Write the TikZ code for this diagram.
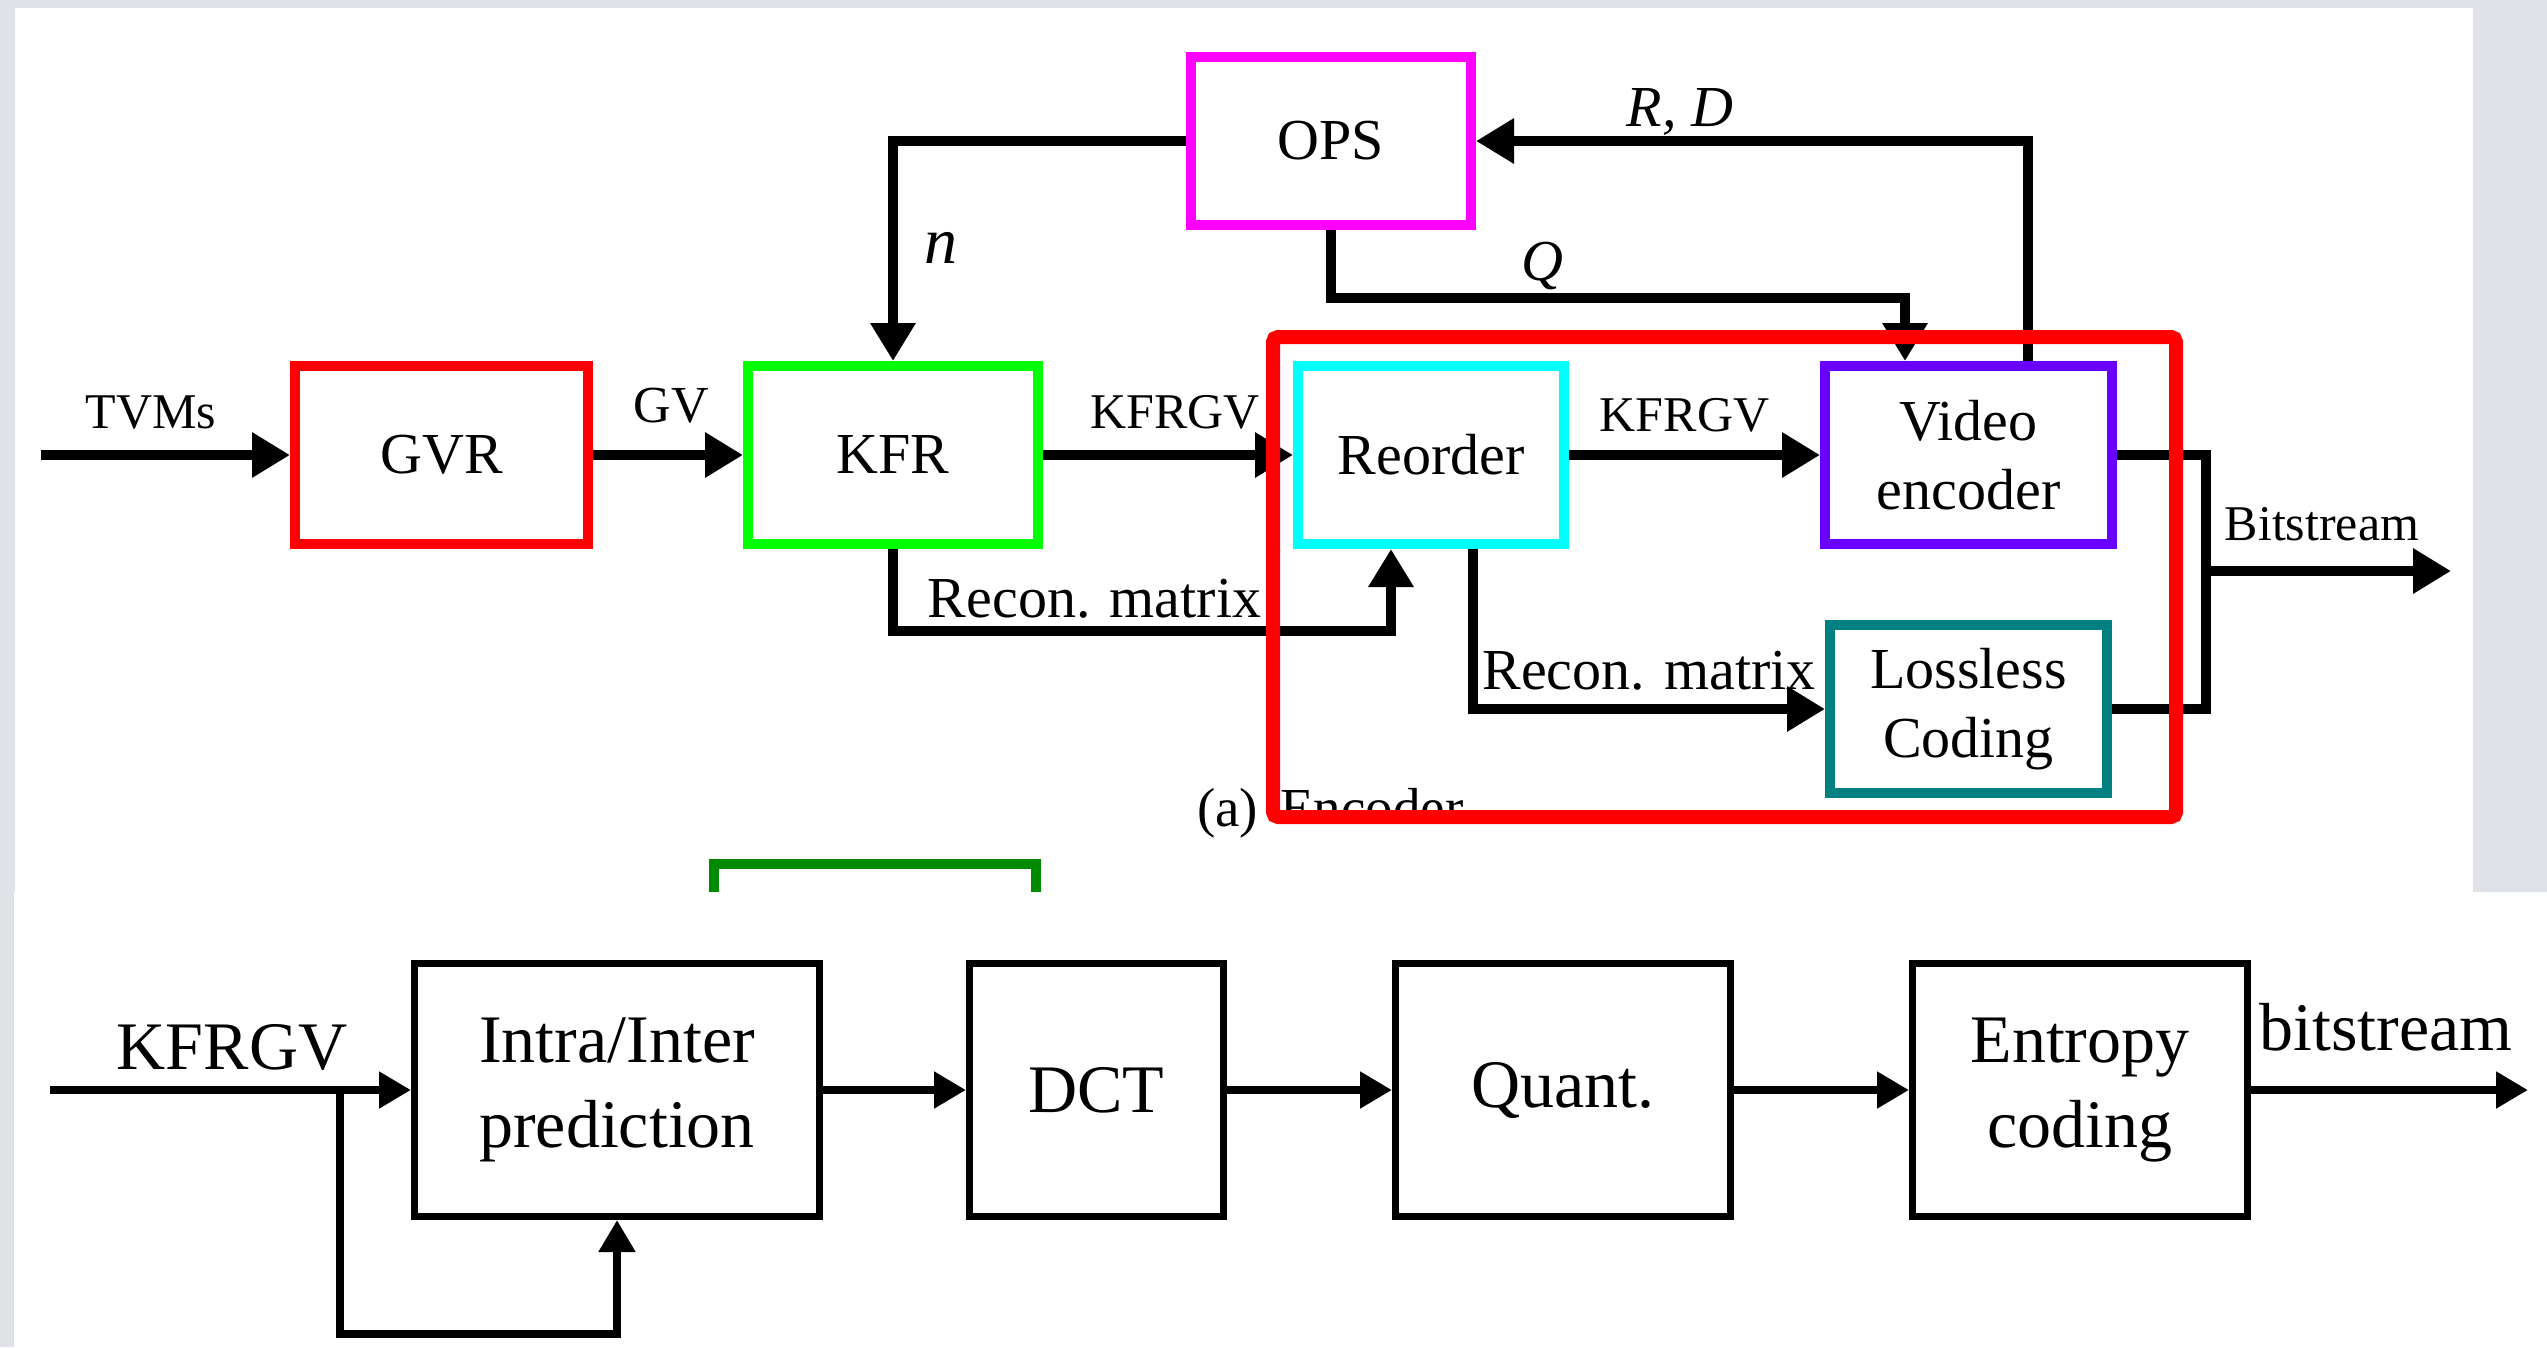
\documentclass[tikz,border=0pt]{standalone}
\usepackage{fontspec}
\setmainfont{Liberation Serif}
\usetikzlibrary{arrows.meta,calc}
\definecolor{bggrey}{HTML}{DFE2E7}
\definecolor{vmag}{HTML}{FF00FF}
\definecolor{vred}{HTML}{FF0000}
\definecolor{vgreen}{HTML}{00FF00}
\definecolor{vcyan}{HTML}{00FFFF}
\definecolor{vpurple}{HTML}{6A00FF}
\definecolor{vteal}{HTML}{008080}
\definecolor{vdkgreen}{HTML}{008A00}
\newcommand{\myfs}[2]{\fontsize{#1pt}{#2pt}\selectfont}
\begin{document}
\begin{tikzpicture}[x=1pt,y=-1pt,
  tbox/.style={draw, line width=10pt, inner sep=0pt, align=center, font=\myfs{58}{69}},
  bbox/.style={draw=black, line width=7pt, inner sep=0pt, align=center, font=\myfs{68}{85}, minimum height=253pt},
  tarr/.style={-{Triangle[length=38pt,width=43pt]}, line width=10pt},
  tline/.style={line width=10pt},
  barr/.style={-{Triangle[length=32pt,width=35pt]}, line width=8pt},
  bline/.style={line width=8pt},
  tlab/.style={inner sep=0pt, anchor=base, font=\myfs{50}{50}},
  tlabb/.style={inner sep=0pt, anchor=base, font=\myfs{58}{58}},
  tlabi/.style={inner sep=0pt, anchor=base, font=\myfs{58}{58}\itshape},
  blab/.style={inner sep=0pt, anchor=base, font=\myfs{68}{68}}
]
\useasboundingbox (0,0) rectangle (2547,1347);
% backgrounds
\fill[bggrey] (0,0) rectangle (2547,1347);
\fill[white] (15,8) rectangle (2473,892);
\draw[vdkgreen, line width=10pt] (714,892) -- (714,864) -- (1036,864) -- (1036,892);
\fill[white] (14,892) rectangle (2547,1347);

% ---------- top panel ----------
\node[tbox, draw=vmag, minimum width=280pt, minimum height=168pt] (ops) at (1331,141) {OPS};
\node[tbox, draw=vred, minimum width=293pt, minimum height=178pt] (gvr) at (441.5,455) {GVR};
\node[tbox, draw=vgreen, minimum width=290pt, minimum height=178pt] (kfr) at (893,455) {KFR};
\node[tbox, draw=vcyan, minimum width=266pt, minimum height=178pt] (reo) at (1431,455) {Reorder};
\node[tbox, draw=vpurple, minimum width=287pt, minimum height=178pt] (venc) at (1968.5,455) {Video\\encoder};
\node[tbox, draw=vteal, minimum width=277pt, minimum height=168pt] (lossless) at (1968.5,709) {Lossless\\Coding};

\coordinate (tin) at (41,455);
\coordinate (rm1) at (1391,631);
\coordinate (qc) at (1905,298);
\coordinate (rd) at (2028,141);
\coordinate (rm2) at (1473,709);
\coordinate (bsj) at (2206,571);
\coordinate (bsout) at (2451,571);

\draw[tarr] (tin) -- (gvr.west);
\draw[tarr] (gvr.east) -- (kfr.west);
\draw[tarr] (kfr.east) -- (reo.west);
\draw[tarr] (ops.west) -| (kfr.north);
\draw[tarr] (kfr.south) |- (rm1) -- (rm1 |- reo.south);
\draw[tarr] (reo.east) -- (venc.west);
\draw[tarr] (ops.south) |- (qc) -- (qc |- venc.north);
\draw[tarr] (rd |- venc.north) -- (rd) -- (ops.east);
\draw[tarr] (rm2 |- reo.south) -- (rm2) -- (lossless.west);
\draw[tline] (venc.east) -| (bsj |- lossless.east) -- (lossless.east);
\draw[tarr] (bsj) -- (bsout);

\node[tlab] (lTVM) at (151,428) {TVMs};
\node[tlab, font=\myfs{52}{52}] (lGV) at (671,422) {GV};
\node[tlab] (lKF1) at (1175,428) {KFRGV};
\node[tlab, font=\myfs{66}{66}\itshape] (ln) at (941,263) {n};
\node[tlabb] (lrm1) at (1094.5,617) {Recon. matrix};
\node[tlab] (lKF2) at (1684.5,431) {KFRGV};
\node[tlabi] (lQ) at (1542,280) {Q};
\node[tlabi] (lRD) at (1680,126) {R, D};
\node[tlab] (lbs) at (2322,540) {Bitstream};
\node[tlabb] (lrm2) at (1649,689) {Recon. matrix};
\node[tlab, font=\myfs{55}{55}, anchor=base west] (la) at (1197,826) {(a)};
\begin{scope}
  \clip (1262,700) rectangle (1700,812);
  \node[tlab, font=\myfs{55}{55}, anchor=base west] (lenc) at (1280,826) {Encoder};
\end{scope}
\draw[vred, line width=14pt, rounded corners=5pt] (1273,337) rectangle (2176,817);

% ---------- bottom panel ----------
\node[bbox, minimum width=405pt] (intra) at (617,1090) {Intra/Inter\\prediction};
\node[bbox, minimum width=254pt] (dct) at (1096.5,1090) {DCT};
\node[bbox, minimum width=335pt] (quant) at (1563,1090) {Quant.};
\node[bbox, minimum width=335pt] (ent) at (2080,1090) {Entropy\\coding};
\coordinate (bin) at (50,1090);
\coordinate (bfork) at (340,1090);
\coordinate (bloop) at (340,1334);
\coordinate (bout) at (2528,1090);
\draw[barr] (bin) -- (intra.west);
\draw[barr] (bfork) -- (bloop) -| (intra.south);
\draw[barr] (intra.east) -- (dct.west);
\draw[barr] (dct.east) -- (quant.west);
\draw[barr] (quant.east) -- (ent.west);
\draw[barr] (ent.east) -- (bout);
\node[blab] (lkfb) at (232,1069) {KFRGV};
\node[blab, anchor=base west] (lbsb) at (2259,1050) {bitstream};
\end{tikzpicture}
\end{document}
